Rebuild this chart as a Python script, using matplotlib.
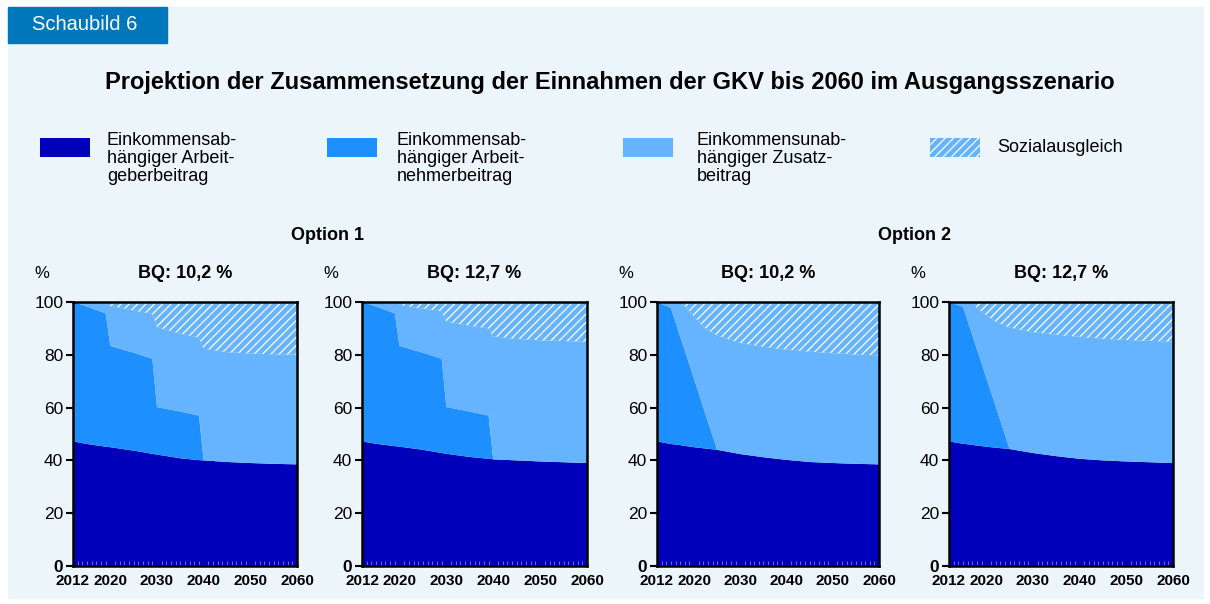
import matplotlib
matplotlib.use("Agg")
import matplotlib.pyplot as plt
from matplotlib.patches import Rectangle

plt.rcParams['font.family'] = ['Liberation Sans', 'DejaVu Sans']
plt.rcParams['hatch.color'] = 'white'
plt.rcParams['hatch.linewidth'] = 0.9

# Anteile an den Einnahmen der GKV in %
jahre_opt1 = [2012, 2015, 2019, 2020, 2023, 2025, 2029, 2030, 2035, 2039, 2040, 2045, 2050, 2055, 2060]
jahre_opt2 = [2012, 2015, 2017, 2018, 2020, 2022, 2025, 2030, 2035, 2040, 2045, 2050, 2055, 2060]

# Option 1, BQ 10,2 %
ag_o1_102 = [47.2, 46.2, 45.2, 45.0, 44.2, 43.7, 42.5, 42.2, 40.8, 40.1, 40.0, 39.4, 39.0, 38.7, 38.5]
an_o1_102 = [52.8, 52.1, 50.5, 38.4, 37.6, 37.1, 36.0, 18.0, 17.7, 16.9, 0, 0, 0, 0, 0]
zb_o1_102 = [0, 1.7, 4.3, 15.1, 15.7, 16.0, 17.0, 30.3, 29.5, 29.5, 42.3, 41.6, 41.5, 41.5, 41.5]
sa_o1_102 = [0, 0, 0, 1.5, 2.5, 3.2, 4.5, 9.5, 12.0, 13.5, 17.7, 19.0, 19.5, 19.8, 20.0]

# Option 1, BQ 12,7 %
ag_o1_127 = [47.2, 46.3, 45.4, 45.2, 44.5, 44.0, 42.8, 42.5, 41.3, 40.6, 40.4, 40.0, 39.6, 39.3, 39.0]
an_o1_127 = [52.8, 52.0, 50.3, 38.2, 37.3, 36.8, 35.7, 17.7, 17.2, 16.4, 0, 0, 0, 0, 0]
zb_o1_127 = [0, 1.7, 4.3, 15.6, 16.2, 16.7, 18.0, 32.3, 32.5, 33.0, 46.6, 46.0, 45.9, 45.9, 46.0]
sa_o1_127 = [0, 0, 0, 1.0, 2.0, 2.5, 3.5, 7.5, 9.0, 10.0, 13.0, 14.0, 14.5, 14.8, 15.0]

# Option 2, BQ 10,2 %
ag_o2_102 = [47.2, 46.2, 45.8, 45.5, 45.0, 44.6, 44.0, 42.4, 41.2, 40.2, 39.4, 39.0, 38.7, 38.5]
an_o2_102 = [52.8, 51.6, 41.2, 36.2, 25.9, 15.5, 0, 0, 0, 0, 0, 0, 0, 0]
zb_o2_102 = [0, 2.2, 13.0, 16.8, 23.6, 30.4, 43.3, 42.1, 41.8, 41.8, 41.8, 41.6, 41.4, 41.3]
sa_o2_102 = [0, 0, 0, 1.5, 5.5, 9.5, 12.7, 15.5, 17.0, 18.0, 18.8, 19.4, 19.9, 20.2]

# Option 2, BQ 12,7 %
ag_o2_127 = [47.2, 46.3, 45.9, 45.6, 45.2, 44.8, 44.3, 42.8, 41.6, 40.6, 40.0, 39.6, 39.3, 39.0]
an_o2_127 = [52.8, 51.9, 41.5, 36.4, 26.1, 15.7, 0, 0, 0, 0, 0, 0, 0, 0]
zb_o2_127 = [0, 1.8, 12.6, 15.8, 23.7, 32.0, 46.0, 45.8, 46.0, 46.2, 46.1, 46.0, 46.0, 46.0]
sa_o2_127 = [0, 0, 0, 2.2, 5.0, 7.5, 9.7, 11.4, 12.4, 13.2, 13.9, 14.4, 14.7, 15.0]

panel_titel = ['BQ: 10,2 %', 'BQ: 12,7 %', 'BQ: 10,2 %', 'BQ: 12,7 %']
optionen = ['Option 1', 'Option 2']
legende = ['Einkommensab-\nhängiger Arbeit-\ngeberbeitrag',
           'Einkommensab-\nhängiger Arbeit-\nnehmerbeitrag',
           'Einkommensunab-\nhängiger Zusatz-\nbeitrag',
           'Sozialausgleich']
x_ticks = [2012, 2020, 2030, 2040, 2050, 2060]
y_ticks = [0, 20, 40, 60, 80, 100]

farben = ['#0000bb', '#1e8fff', '#66b3ff', '#66b3ff']
hg = '#ecf5f9'

W, H = 1210, 604
fig = plt.figure(figsize=(W / 100, H / 100), dpi=100)
fig.patch.set_facecolor('white')


def fx(px):
    return px / W


def fy(py):
    return 1 - py / H


fig.add_artist(Rectangle((fx(8), fy(598)), fx(1195), (598 - 7) / H,
                         transform=fig.transFigure, color=hg, zorder=-10))
fig.add_artist(Rectangle((fx(8), fy(43)), fx(159), 36 / H,
                         transform=fig.transFigure, color='#0077bb', zorder=-5))
fig.text(fx(32), fy(25), 'Schaubild 6', color='white', fontsize=14.5, va='center')
fig.text(fx(610), fy(83), 'Projektion der Zusammensetzung der Einnahmen der GKV bis 2060 im Ausgangsszenario',
         fontsize=17, weight='bold', ha='center', va='center')

# Legende
lx = [40, 327, 623, 930]
tx = [107, 397, 697, 997]
for i, lab in enumerate(legende):
    r = Rectangle((fx(lx[i]), fy(157)), fx(50), 19 / H, transform=fig.transFigure,
                  facecolor=farben[i], edgecolor='white' if i == 3 else farben[i],
                  linewidth=0, hatch='////' if i == 3 else None)
    fig.add_artist(r)
    if i == 3:
        fig.text(fx(tx[i]), fy(147), lab, fontsize=13, va='center')
    else:
        fig.text(fx(tx[i]), fy(132), lab, fontsize=13, va='top', linespacing=1.08)

fig.text(fx(328), fy(236), optionen[0], fontsize=13, weight='bold', ha='center', va='center')
fig.text(fx(915), fy(236), optionen[1], fontsize=13, weight='bold', ha='center', va='center')

daten = [
    (jahre_opt1, ag_o1_102, an_o1_102, zb_o1_102, sa_o1_102),
    (jahre_opt1, ag_o1_127, an_o1_127, zb_o1_127, sa_o1_127),
    (jahre_opt2, ag_o2_102, an_o2_102, zb_o2_102, sa_o2_102),
    (jahre_opt2, ag_o2_127, an_o2_127, zb_o2_127, sa_o2_127),
]
links = [73, 362, 657, 949]
rechts = [297, 587, 879, 1173]
oben, unten = 302, 566

for i, (jahre, ag, an, zb, sa) in enumerate(daten):
    ax = fig.add_axes([fx(links[i]), fy(unten), fx(rechts[i] - links[i]), (unten - oben) / H])
    ax.set_facecolor(hg)
    polys = ax.stackplot(jahre, ag, an, zb, sa, colors=farben, linewidth=0)
    polys[3].set_hatch('////')
    polys[3].set_edgecolor('white')
    polys[3].set_linewidth(0)
    ax.set_xlim(2012, 2060)
    ax.set_ylim(0, 100)
    for s in ax.spines.values():
        s.set_linewidth(1.8)
    ax.set_xticks(x_ticks)
    ax.set_xticklabels([str(x) for x in x_ticks], fontsize=11, weight='bold')
    ax.set_xticks(range(2012, 2061), minor=True)
    ax.tick_params(axis='x', which='major', length=0, pad=6)
    ax.tick_params(axis='x', which='minor', direction='in', length=3.5, width=0.7, color='#6a6ad0')
    ax.set_yticks(y_ticks)
    ax.set_yticklabels([str(y) for y in y_ticks], fontsize=12.5)
    ax.get_yticklabels()[0].set_weight('bold')
    ax.tick_params(axis='y', length=5, width=1.5, pad=2)
    fig.text(fx((links[i] + rechts[i]) / 2), fy(273), panel_titel[i], fontsize=13,
             weight='bold', ha='center', va='center')
    fig.text(fx(links[i] - 31), fy(273), '%', fontsize=12, ha='center', va='center')

fig.savefig('out.png', dpi=100, facecolor=fig.get_facecolor())
